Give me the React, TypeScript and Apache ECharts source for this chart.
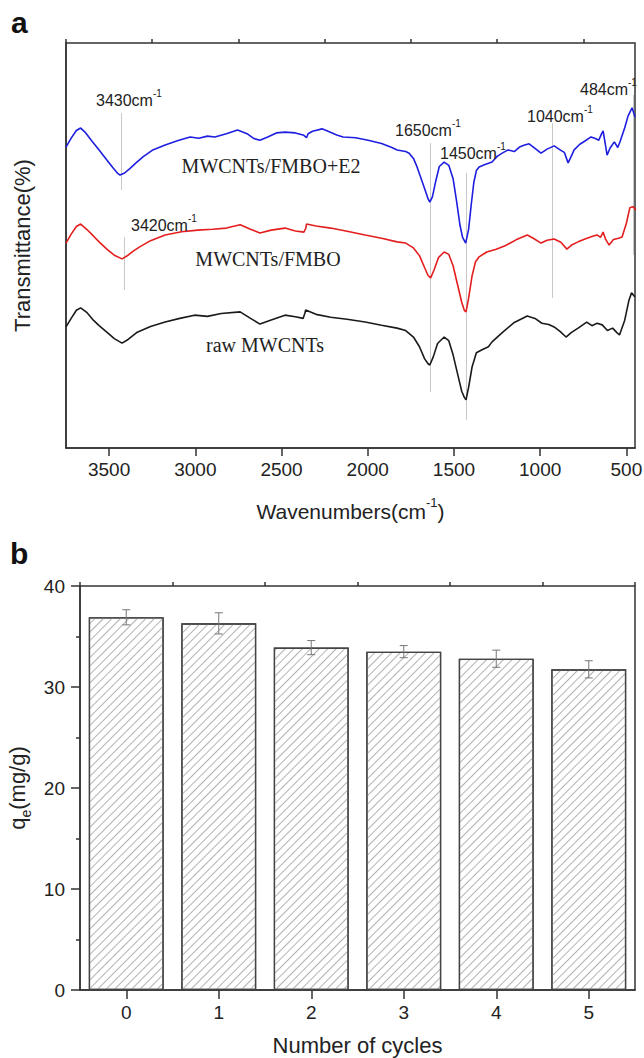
import React, { useEffect, useRef } from 'react';
import * as echarts from 'echarts';

// ---------- Panel a: FTIR spectra (wavenumber cm-1, transmittance a.u.) ----------
const blueSpectrum: [number, number][] = [
  [3750, 74.3], [3720, 76.5], [3690, 78.4], [3665, 79.0], [3640, 78.0], [3600, 75.8], [3558, 73.6],
  [3520, 71.5], [3480, 69.3], [3450, 67.8], [3437, 67.4], [3410, 67.9], [3380, 69.0], [3344, 70.4],
  [3300, 72.0], [3250, 73.5], [3175, 74.8], [3100, 75.9], [3030, 76.8], [2980, 76.5], [2930, 77.0],
  [2886, 76.8], [2820, 77.6], [2755, 78.5], [2700, 77.6], [2660, 76.4], [2625, 76.0], [2580, 76.8],
  [2530, 77.8], [2480, 78.0], [2420, 77.8], [2370, 77.2], [2355, 76.6], [2346, 77.6], [2320, 78.2],
  [2265, 78.8], [2220, 78.0], [2180, 77.3], [2143, 76.8], [2070, 76.6], [1998, 76.0], [1920, 75.2],
  [1860, 74.2], [1830, 73.6], [1780, 73.2], [1760, 72.8], [1735, 71.5], [1714, 69.4], [1690, 66.5],
  [1662, 63.0], [1650, 61.5], [1640, 60.7], [1625, 62.0], [1605, 66.0], [1585, 69.5], [1557, 70.6],
  [1530, 69.8], [1505, 66.5], [1485, 61.0], [1465, 55.0], [1450, 52.0], [1432, 50.6], [1415, 54.0],
  [1400, 60.0], [1385, 65.5], [1370, 68.5], [1354, 69.4], [1320, 70.0], [1279, 70.6], [1250, 72.0],
  [1220, 72.8], [1186, 73.6], [1150, 73.2], [1120, 74.3], [1090, 74.8], [1064, 75.1], [1030, 74.0],
  [995, 72.8], [960, 73.8], [919, 74.6], [880, 73.5], [860, 73.0], [838, 70.4], [820, 72.0], [803, 73.6],
  [770, 75.0], [740, 75.8], [705, 76.8], [680, 76.4], [660, 76.0], [645, 77.5], [635, 78.3],
  [622, 75.0], [612, 72.3], [595, 74.0], [570, 75.6], [550, 74.2], [537, 75.6], [510, 79.0],
  [490, 82.0], [467, 84.0], [450, 81.7],
];

const redSpectrum: [number, number][] = [
  [3750, 50.6], [3720, 52.8], [3690, 54.7], [3665, 55.3], [3630, 54.0], [3590, 52.3], [3558, 50.9],
  [3510, 49.0], [3470, 47.6], [3425, 46.7], [3390, 47.6], [3360, 48.6], [3325, 49.6], [3260, 51.2],
  [3175, 52.6], [3080, 53.4], [2985, 53.8], [2900, 54.0], [2820, 54.3], [2740, 55.1], [2680, 54.0],
  [2625, 53.1], [2560, 53.8], [2480, 54.3], [2420, 53.6], [2370, 53.3], [2360, 54.2], [2355, 55.3],
  [2300, 54.8], [2215, 54.3], [2120, 53.5], [2015, 52.6], [1920, 51.8], [1830, 50.9], [1780, 50.6],
  [1735, 49.4], [1700, 47.5], [1670, 44.5], [1650, 42.6], [1635, 42.0], [1615, 44.0], [1590, 47.0],
  [1557, 48.4], [1530, 47.8], [1505, 45.0], [1480, 40.5], [1455, 36.0], [1440, 34.0], [1430, 33.6],
  [1415, 37.0], [1395, 42.5], [1375, 46.0], [1354, 47.2], [1310, 48.4], [1255, 49.1], [1200, 50.0],
  [1140, 51.4], [1075, 52.6], [1040, 51.8], [995, 50.6], [960, 51.3], [919, 51.6], [880, 50.8],
  [845, 49.1], [815, 50.2], [780, 50.9], [740, 51.6], [700, 52.2], [670, 52.6], [650, 52.0],
  [635, 53.3], [620, 51.5], [600, 50.1], [575, 51.5], [545, 51.8], [525, 52.1], [500, 55.5],
  [480, 59.3], [462, 59.6], [445, 58.8],
];

const blackSpectrum: [number, number][] = [
  [3750, 29.9], [3720, 32.0], [3690, 34.0], [3665, 34.6], [3630, 33.5], [3590, 31.5], [3558, 30.2],
  [3510, 28.5], [3470, 27.0], [3425, 25.9], [3390, 26.8], [3340, 28.5], [3260, 30.0], [3175, 31.1],
  [3090, 32.0], [3005, 32.8], [2930, 32.5], [2850, 33.2], [2740, 33.6], [2680, 32.0], [2625, 30.6],
  [2560, 31.6], [2480, 32.8], [2420, 32.4], [2375, 32.0], [2365, 33.2], [2360, 34.1], [2300, 33.0],
  [2215, 32.3], [2120, 31.8], [2015, 31.1], [1920, 30.3], [1830, 29.6], [1780, 29.0], [1735, 27.4],
  [1700, 25.0], [1670, 22.0], [1650, 20.8], [1640, 20.5], [1620, 22.5], [1595, 25.8], [1557, 27.4],
  [1530, 26.5], [1505, 23.0], [1480, 18.5], [1455, 14.0], [1440, 12.5], [1430, 11.9], [1415, 15.0],
  [1395, 20.0], [1370, 23.5], [1340, 24.2], [1300, 25.0], [1279, 26.2], [1220, 28.5], [1150, 31.0],
  [1075, 32.6], [1030, 32.0], [990, 30.8], [950, 30.5], [919, 29.9], [885, 28.8], [850, 27.4],
  [820, 28.5], [780, 29.6], [730, 31.1], [700, 30.2], [670, 30.8], [640, 30.4], [610, 29.0],
  [580, 29.6], [555, 28.5], [540, 27.9], [510, 31.5], [485, 36.5], [470, 38.3], [450, 37.3],
];

// peak marker lines: wavenumber and the transmittance span of the thin gray guide
const peakMarkers = [
  { wn: 3431, from: 82.7, to: 63.7 },
  { wn: 3414, from: 52.1, to: 39.0 },
  { wn: 1640, from: 75.3, to: 13.8 },
  { wn: 1430, from: 67.9, to: 6.9 },
  { wn: 930, from: 80.2, to: 37.0 },
  { wn: 461, from: 87.2, to: 47.7 },
];

const majorWavenumberTicks = [500, 1000, 1500, 2000, 2500, 3000, 3500];
const minorWavenumberTicks = [750, 1250, 1750, 2250, 2750, 3250, 3750];

// ---------- Panel b: reuse cycles ----------
const cycles = ['0', '1', '2', '3', '4', '5'];
const qeValues = [36.9, 36.3, 33.9, 33.5, 32.8, 31.75];
const qeErrors = [0.75, 1.05, 0.7, 0.6, 0.85, 0.85];

const SANS = '"Liberation Sans", Arial, Helvetica, sans-serif';
const SERIF = '"Liberation Serif", "Times New Roman", serif';
const AXIS = '#333';
const TEXT = '#222';

function supLabel(main: string, x: number, y: number) {
  return {
    type: 'text',
    x,
    y,
    style: {
      text: `{m|${main}}{s|-1}`,
      verticalAlign: 'middle',
      rich: {
        m: { fontSize: 16, fontFamily: SANS, fill: TEXT, lineHeight: 20, verticalAlign: 'bottom' },
        s: { fontSize: 10, fontFamily: SANS, fill: TEXT, lineHeight: 10, verticalAlign: 'top' },
      },
    },
    z: 10,
  };
}

function seriesLabel(text: string, x: number, y: number) {
  return {
    type: 'text',
    x,
    y,
    style: { text, fontSize: 20, fontFamily: SERIF, fill: TEXT, align: 'center', verticalAlign: 'middle' },
    z: 10,
  };
}

export default function App() {
  const ref = useRef<HTMLDivElement>(null);
  useEffect(() => {
    if (!ref.current) return;
    const chart = echarts.init(ref.current, undefined, { renderer: 'svg' });

    const markLineData = peakMarkers.map((p) => [
      { coord: [p.wn, p.from] },
      { coord: [p.wn, p.to] },
    ]);

    const option: any = {
      animation: false,
      backgroundColor: '#fff',
      grid: [
        { left: 66, top: 43, width: 569, height: 405, show: true, borderColor: AXIS, borderWidth: 1.5, backgroundColor: 'transparent', containLabel: false, outerBoundsMode: 'none' },
        { left: 80, top: 586, width: 555, height: 404, show: true, borderColor: AXIS, borderWidth: 1.5, backgroundColor: 'transparent', containLabel: false, outerBoundsMode: 'none' },
      ],
      xAxis: [
        {
          gridIndex: 0,
          type: 'value',
          inverse: true,
          min: 450,
          max: 3750,
          axisLine: { show: true, lineStyle: { color: AXIS, width: 1.5 } },
          axisTick: { show: true, customValues: majorWavenumberTicks, length: 8, lineStyle: { color: AXIS, width: 1.5 } },
          axisLabel: {
            customValues: majorWavenumberTicks,
            fontSize: 19,
            color: TEXT,
            margin: 12,
            fontFamily: SANS,
            formatter: (v: number) => String(v),
          },
          splitLine: { show: false },
          name: '{m|Wavenumbers(cm}{s|-1}{m|)}',
          nameLocation: 'middle',
          nameGap: 48,
          nameTextStyle: {
            rich: {
              m: { fontSize: 21, fontFamily: SANS, color: TEXT, lineHeight: 26, verticalAlign: 'bottom' },
              s: { fontSize: 13, fontFamily: SANS, color: TEXT, lineHeight: 13, verticalAlign: 'top' },
            },
          },
        },
        {
          gridIndex: 0,
          type: 'value',
          inverse: true,
          min: 450,
          max: 3750,
          axisLine: { show: false },
          axisTick: { show: true, customValues: minorWavenumberTicks, length: 4, lineStyle: { color: AXIS, width: 1.5 } },
          axisLabel: { show: false },
          splitLine: { show: false },
        },
        {
          gridIndex: 1,
          type: 'category',
          data: cycles,
          axisLine: { show: true, lineStyle: { color: AXIS, width: 1.5 } },
          axisTick: { show: true, alignWithLabel: true, interval: 0, length: 9, lineStyle: { color: AXIS, width: 1.5 } },
          axisLabel: { fontSize: 19, color: TEXT, margin: 13, fontFamily: SANS },
          name: 'Number of cycles',
          nameLocation: 'middle',
          nameGap: 44,
          nameTextStyle: { fontSize: 22, fontFamily: SANS, color: TEXT },
        },
        {
          gridIndex: 1,
          type: 'category',
          data: cycles,
          axisLine: { show: false },
          axisTick: { show: true, interval: 0, length: 4, lineStyle: { color: AXIS, width: 1.5 } },
          axisLabel: { show: false },
        },
      ],
      yAxis: [
        {
          gridIndex: 0,
          type: 'value',
          min: 0,
          max: 100,
          axisLine: { show: true, lineStyle: { color: AXIS, width: 1.5 } },
          axisTick: { show: false },
          axisLabel: { show: false },
          splitLine: { show: false },
          name: 'Transmittance(%)',
          nameLocation: 'middle',
          nameGap: 33,
          nameTextStyle: { fontSize: 22, fontFamily: SANS, color: TEXT },
        },
        {
          gridIndex: 1,
          type: 'value',
          min: 0,
          max: 40,
          interval: 10,
          axisLine: { show: true, lineStyle: { color: AXIS, width: 1.5 } },
          axisTick: { show: true, length: 9, lineStyle: { color: AXIS, width: 1.5 } },
          minorTick: { show: true, splitNumber: 2, length: 4, lineStyle: { color: AXIS, width: 1.5 } },
          axisLabel: { fontSize: 19, color: TEXT, margin: 15, fontFamily: SANS },
          splitLine: { show: false },
          name: '{m|q}{s|e}{m|(mg/g)}',
          nameLocation: 'middle',
          nameGap: 46,
          nameTextStyle: {
            rich: {
              m: { fontSize: 22, fontFamily: SANS, color: TEXT, lineHeight: 26, verticalAlign: 'top' },
              s: { fontSize: 14, fontFamily: SANS, color: TEXT, lineHeight: 14, verticalAlign: 'bottom' },
            },
          },
        },
      ],
      series: [
        {
          type: 'line',
          xAxisIndex: 0,
          yAxisIndex: 0,
          data: blueSpectrum,
          showSymbol: false,
          lineStyle: { color: '#1e1ee0', width: 1.6 },
          z: 3,
          markLine: {
            silent: true,
            symbol: 'none',
            label: { show: false },
            lineStyle: { color: '#c8c8c8', width: 1, type: 'solid' },
            data: markLineData,
            z: 1,
          },
        },
        {
          type: 'line',
          xAxisIndex: 0,
          yAxisIndex: 0,
          data: redSpectrum,
          showSymbol: false,
          lineStyle: { color: '#e41e1e', width: 1.6 },
          z: 3,
        },
        {
          type: 'line',
          xAxisIndex: 0,
          yAxisIndex: 0,
          data: blackSpectrum,
          showSymbol: false,
          lineStyle: { color: '#1a1a1a', width: 1.6 },
          z: 3,
        },
        {
          type: 'bar',
          xAxisIndex: 2,
          yAxisIndex: 1,
          data: qeValues,
          barWidth: '81%',
          itemStyle: {
            color: '#ffffff',
            borderColor: '#444',
            borderWidth: 1.3,
            decal: {
              symbol: 'rect',
              symbolSize: 1,
              color: '#b2b2b2',
              backgroundColor: null,
              dashArrayX: [1, 0],
              dashArrayY: [1, 4.5],
              rotation: -Math.PI / 4,
            },
          },
        },
        {
          type: 'custom',
          xAxisIndex: 2,
          yAxisIndex: 1,
          data: qeValues.map((v, i) => [i, v - qeErrors[i], v + qeErrors[i]]),
          encode: { x: 0, y: [1, 2] },
          z: 5,
          renderItem: (params: any, api: any) => {
            const i = api.value(0);
            const lo = api.coord([i, api.value(1)]);
            const hi = api.coord([i, api.value(2)]);
            const w = 4;
            const st = { stroke: '#777', lineWidth: 1 };
            return {
              type: 'group',
              children: [
                { type: 'line', shape: { x1: lo[0], y1: lo[1], x2: hi[0], y2: hi[1] }, style: st },
                { type: 'line', shape: { x1: hi[0] - w, y1: hi[1], x2: hi[0] + w, y2: hi[1] }, style: st },
                { type: 'line', shape: { x1: lo[0] - w, y1: lo[1], x2: lo[0] + w, y2: lo[1] }, style: st },
              ],
            };
          },
        },
      ],
      graphic: [
        { type: 'text', x: 11, y: 22, style: { text: 'a', fontSize: 30, fontWeight: 'bold', fontFamily: SANS, fill: '#111', verticalAlign: 'middle' } },
        { type: 'text', x: 10, y: 553, style: { text: 'b', fontSize: 30, fontWeight: 'bold', fontFamily: SANS, fill: '#111', verticalAlign: 'middle' } },
        supLabel('3430cm', 96, 98),
        supLabel('3420cm', 131, 223),
        supLabel('1650cm', 395, 128),
        supLabel('1450cm', 440, 151),
        supLabel('1040cm', 527, 114),
        supLabel('484cm', 580, 87),
        seriesLabel('MWCNTs/FMBO+E2', 271, 166),
        seriesLabel('MWCNTs/FMBO', 268, 259),
        seriesLabel('raw MWCNTs', 265, 345),
      ],
    };

    chart.setOption(option);
    return () => chart.dispose();
  }, []);

  return <div ref={ref} style={{ position: 'absolute', left: 0, top: 0, width: 644, height: 1058 }} />;
}
